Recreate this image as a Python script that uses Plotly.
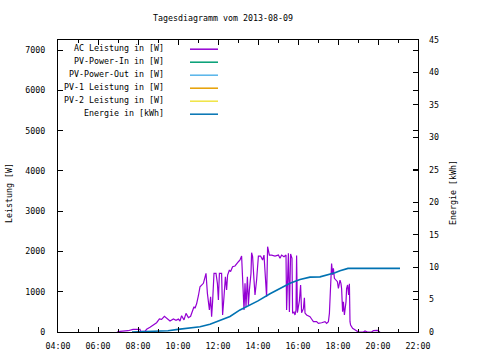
import plotly.graph_objects as go

title_text = "Tagesdiagramm vom 2013-08-09"
series_names = ["AC Leistung in [W]", "PV-Power-In in [W]", "PV-Power-Out in [W]",
                "PV-1 Leistung in [W]", "PV-2 Leistung in [W]", "Energie in [kWh]"]
series_colors = ["#9400d3", "#009e73", "#56b4e9", "#e69f00", "#f0e442", "#0072b2"]

x_tick_vals = [4, 6, 8, 10, 12, 14, 16, 18, 20, 22]
x_tick_text = ["04:00", "06:00", "08:00", "10:00", "12:00", "14:00", "16:00", "18:00", "20:00", "22:00"]
y1_ticks = [0, 1000, 2000, 3000, 4000, 5000, 6000, 7000]
y2_ticks = [0, 5, 10, 15, 20, 25, 30, 35, 40, 45]

# AC power (hours of day, W)
ac_time = [6.95, 7.1, 7.5, 7.75, 8.1, 8.13, 8.35, 8.43, 8.6, 8.77, 8.93, 9.07, 9.18, 9.32, 9.43,
           9.6, 9.77, 9.9, 10.02, 10.1, 10.18, 10.3, 10.4, 10.52, 10.63, 10.73, 10.8, 10.85, 10.93,
           11.02, 11.1, 11.27, 11.4, 11.47, 11.52, 11.57, 11.63, 11.68, 11.73, 11.8, 11.9, 11.97,
           12.02, 12.07, 12.18, 12.23, 12.3, 12.37, 12.43, 12.48, 12.57, 12.63, 12.73, 12.85, 13.02,
           13.1, 13.18, 13.23, 13.3, 13.35, 13.4, 13.47, 13.52, 13.57, 13.65, 13.68, 13.73, 13.8,
           13.85, 13.93, 14.02, 14.13, 14.23, 14.3, 14.35, 14.43, 14.48, 14.57, 14.68, 14.85, 15.02,
           15.1, 15.18, 15.3, 15.4, 15.43, 15.52, 15.57, 15.63, 15.7, 15.73, 15.8, 15.85, 15.9,
           15.93, 15.97, 16.07, 16.13, 16.18, 16.27, 16.32, 16.35, 16.43, 16.6, 16.68, 16.77, 16.93,
           17.02, 17.18, 17.35, 17.43, 17.52, 17.57, 17.6, 17.65, 17.68, 17.73, 17.77, 17.82, 17.9,
           17.97, 18.02, 18.1, 18.15, 18.18, 18.23, 18.27, 18.32, 18.4, 18.43, 18.48, 18.53, 18.57,
           18.6, 18.63, 18.73, 18.85, 19.02, 19.27, 19.35, 19.47, 19.68, 19.77, 19.97, 20.1]
ac_power = [0, 17, 32, 67, 67, 17, 17, 67, 116, 166, 231, 323, 315, 389, 340,
            273, 323, 290, 320, 273, 405, 300, 463, 356, 390, 563, 628, 590, 700,
            900, 1124, 1209, 1457, 960, 712, 546, 876, 380, 752, 1457, 1457, 1209,
            794, 1457, 1457, 422, 876, 1373, 1042, 1415, 1539, 1500, 1620, 1640, 1745,
            1787, 1886, 1209, 546, 1209, 628, 1373, 670, 1042, 1457, 1968, 1870, 1290,
            918, 1290, 1886, 1886, 1787, 1910, 1457, 876, 2118, 1910, 1910, 1886, 1910,
            1829, 1910, 1870, 1910, 546, 1953, 496, 1936, 1829, 463, 496, 422, 546,
            1900, 480, 780, 1166, 480, 580, 850, 470, 422, 380, 323, 257, 257,
            215, 230, 257, 215, 257, 463, 918, 1497, 1700, 1420, 1580, 1333, 1290,
            1249, 1080, 1290, 1200, 1080, 504, 750, 422, 750, 1080, 1166, 920, 1200,
            257, 174, 91, 50, 0, 0, 25, 0, 0, 33, 40, 0]

# Energy (hours of day, kWh)
en_time = [7.7, 8.5, 9.0, 9.5, 10.0, 10.6, 11.1, 11.6, 12.1, 12.6, 13.1, 13.6, 14.0, 14.6,
           15.1, 15.6, 16.1, 16.6, 17.1, 17.6, 17.85, 18.1, 18.5, 21.1]
en_value = [0, 0.05, 0.1, 0.2, 0.4, 0.57, 0.82, 1.19, 1.8, 2.4, 3.4, 4.2, 4.8, 5.9,
            6.7, 7.5, 8.1, 8.45, 8.5, 8.9, 9.14, 9.45, 9.8, 9.8]

FONT = "DejaVu Sans Mono"
FS = 8.3

fig = go.Figure()
fig.add_trace(go.Scatter(x=ac_time, y=ac_power, mode="lines", name=series_names[0],
                         line=dict(color=series_colors[0], width=1.2), yaxis="y"))
fig.add_trace(go.Scatter(x=en_time, y=en_value, mode="lines", name=series_names[5],
                         line=dict(color=series_colors[5], width=1.6), yaxis="y2"))

# gnuplot-style key: right-aligned text followed by a line sample
key_rows_px = [48, 61, 74, 87, 100, 113]
for name, color, ypx in zip(series_names, series_colors, key_rows_px):
    yp = (332 - ypx) / 292
    fig.add_annotation(xref="paper", yref="paper", x=(166 - 58) / 360, y=yp,
                       xanchor="right", yanchor="middle", text=name, showarrow=False,
                       font=dict(family=FONT, size=FS, color="black"))
    fig.add_shape(type="line", xref="paper", yref="paper",
                  x0=(190 - 58) / 360, x1=(218 - 58) / 360, y0=yp - 1.2 / 292, y1=yp - 1.2 / 292,
                  line=dict(color=color, width=1.5))

fig.add_annotation(xref="paper", yref="paper", x=(9 - 58) / 360, y=(332 - 193) / 292,
                   text="Leistung [W]", textangle=-90, showarrow=False,
                   xanchor="center", yanchor="middle", font=dict(family=FONT, size=FS, color="black"))
fig.add_annotation(xref="paper", yref="paper", x=(453 - 58) / 360, y=(332 - 193) / 292,
                   text="Energie [kWh]", textangle=-90, showarrow=False,
                   xanchor="center", yanchor="middle", font=dict(family=FONT, size=FS, color="black"))

fig.update_layout(
    width=480, height=360,
    margin=dict(l=58, r=62, t=40, b=28, autoexpand=False),
    paper_bgcolor="white", plot_bgcolor="white",
    showlegend=False,
    font=dict(family=FONT, size=FS, color="black"),
    title=dict(text=title_text, x=223 / 480, xanchor="center", y=1 - 18 / 360, yanchor="middle",
               font=dict(family=FONT, size=FS, color="black")),
    xaxis=dict(range=[4, 22], tickvals=x_tick_vals, ticktext=x_tick_text, automargin=False,
               ticks="inside", ticklen=5, tickcolor="black", showgrid=False, zeroline=False,
               showline=True, linecolor="black", linewidth=1, mirror="ticks",
               ticklabelstandoff=6,
               minor=dict(dtick=1, tick0=4, ticks="inside", ticklen=3, tickcolor="black", showgrid=False)),
    yaxis=dict(range=[0, 7250], tickvals=y1_ticks, ticks="inside", ticklen=5, tickcolor="black",
               automargin=False,
               showgrid=False, zeroline=False, showline=True, linecolor="black", linewidth=1,
               mirror="ticks", ticklabelstandoff=10),
    yaxis2=dict(range=[0, 45], tickvals=y2_ticks, overlaying="y", side="right", ticks="inside",
                automargin=False,
                ticklen=5, tickcolor="black", showgrid=False, zeroline=False, showline=False,
                ticklabelstandoff=10),
)

fig.write_html("out.html", config={"displayModeBar": False},
               post_script="document.body.style.margin='0';document.body.style.padding='0';")
